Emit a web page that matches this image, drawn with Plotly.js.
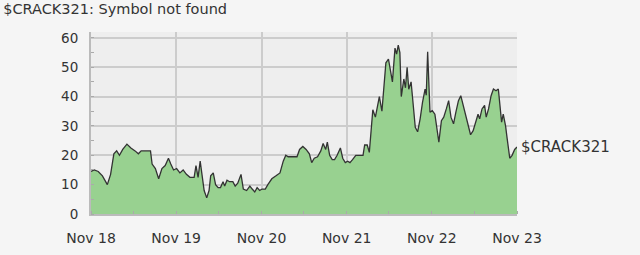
<!DOCTYPE html>
<html><head><meta charset="utf-8">
<script src="https://cdn.plot.ly/plotly-3.0.1.min.js"></script>
<style>html,body{margin:0;padding:0;background:#f5f5f5;}#chart{width:640px;height:255px;}</style>
</head><body><div id="chart"></div>
<script>
const seriesName = "$CRACK321";
const titleText = "$CRACK321: Symbol not found";
const dates = ["2018-11-01","2018-11-15","2018-12-02","2018-12-20","2019-01-10","2019-01-24","2019-02-07","2019-02-19","2019-03-03","2019-03-17","2019-04-04","2019-04-21","2019-05-09","2019-05-23","2019-06-04","2019-06-21","2019-07-14","2019-07-21","2019-08-04","2019-08-18","2019-09-01","2019-09-15","2019-09-29","2019-10-09","2019-10-21","2019-11-03","2019-11-17","2019-12-01","2019-12-15","2019-12-30","2020-01-17","2020-01-25","2020-02-03","2020-02-12","2020-02-22","2020-02-29","2020-03-11","2020-03-21","2020-03-28","2020-04-08","2020-04-18","2020-04-29","2020-05-09","2020-05-20","2020-05-27","2020-06-06","2020-06-17","2020-07-01","2020-07-11","2020-07-22","2020-08-05","2020-08-15","2020-08-29","2020-09-12","2020-09-22","2020-10-03","2020-10-13","2020-10-24","2020-11-03","2020-11-17","2020-11-28","2020-12-15","2021-01-02","2021-01-19","2021-02-02","2021-02-13","2021-02-23","2021-03-13","2021-04-02","2021-04-13","2021-04-27","2021-05-11","2021-05-25","2021-06-04","2021-06-15","2021-06-29","2021-07-13","2021-07-23","2021-08-03","2021-08-10","2021-08-20","2021-08-31","2021-09-10","2021-09-21","2021-10-05","2021-10-15","2021-10-26","2021-11-05","2021-11-15","2021-11-26","2021-12-10","2021-12-27","2022-01-10","2022-01-17","2022-01-28","2022-02-06","2022-02-14","2022-02-21","2022-03-04","2022-03-14","2022-03-21","2022-04-01","2022-04-18","2022-04-29","2022-05-06","2022-05-16","2022-05-27","2022-06-03","2022-06-10","2022-06-17","2022-06-23","2022-07-04","2022-07-11","2022-07-18","2022-07-25","2022-08-04","2022-08-11","2022-08-22","2022-09-01","2022-09-12","2022-09-22","2022-10-03","2022-10-08","2022-10-14","2022-10-24","2022-11-03","2022-11-14","2022-11-24","2022-12-01","2022-12-12","2022-12-22","2023-01-02","2023-01-12","2023-01-22","2023-02-02","2023-02-12","2023-02-23","2023-03-05","2023-03-16","2023-03-26","2023-04-06","2023-04-16","2023-04-27","2023-05-07","2023-05-18","2023-05-25","2023-06-04","2023-06-15","2023-06-22","2023-07-02","2023-07-13","2023-07-23","2023-08-03","2023-08-13","2023-08-20","2023-08-27","2023-09-03","2023-09-13","2023-09-20","2023-10-01","2023-10-11","2023-10-22","2023-11-01"];
const values = [14.5,15,14.5,13,10,13.5,20.5,21.5,20,22,23.8,22.5,21.5,20.5,21.5,21.5,21.5,17,15.5,12,15.5,16.5,19,17,15,15.5,14,15,13.5,12.5,12.5,16.5,12.5,18,12,8,5.5,8,13,14,10,9,9,11,9.5,11.5,11,11,9.5,10.5,13.5,8.5,8,9.5,8.5,7.5,9,8,8.5,8.5,10,12,13,14,18,20,19.5,19.5,19.5,22,23,22,20.5,17.5,19,19.5,21.5,24,22,24.5,20,18.5,18.5,20,22.5,19,17.5,18,17.5,18.5,20,20,20,23.5,23.5,21,30,35.5,33,38,40,35,51.5,52.8,50,45,56.5,54.5,57.5,55,40,46,43,50,42.5,45,39,29.5,28,32.5,38,42.5,40.5,55.3,34.7,35.2,34,29,24.5,31.8,33,35.8,38.6,33,30.7,34.7,38.6,40.3,37,33.5,30,27,28.4,31.3,34,32.4,35.8,37,33,35.8,40.3,42.6,42,42.6,38,31.3,34,30,25.6,19,20,22,22.8];
const xTickVals = ["2018-11-01","2019-11-01","2020-11-01","2021-11-01","2022-11-01","2023-11-01"];
const xTickText = ["Nov 18","Nov 19","Nov 20","Nov 21","Nov 22","Nov 23"];
const yTickVals = [0,10,20,30,40,50,60];

const font = "DejaVu Sans, Verdana, sans-serif";
const trace = {
  x: dates, y: values, type: "scatter", mode: "lines",
  fill: "tozeroy", fillcolor: "#98d190",
  line: {color: "#333333", width: 1.3},
  hoverinfo: "skip"
};
const layout = {
  width: 640, height: 255,
  margin: {l: 91, r: 123, t: 32, b: 41},
  paper_bgcolor: "#f5f5f5", plot_bgcolor: "#eeeeee",
  showlegend: false,
  font: {family: font, size: 13, color: "#333333"},
  xaxis: {
    type: "date", range: [xTickVals[0], xTickVals[xTickVals.length-1]],
    tickvals: xTickVals, ticktext: xTickText,
    showgrid: true, gridcolor: "#cccccc", gridwidth: 2,
    showline: true, linecolor: "#bbbbbb", linewidth: 2,
    ticks: "", ticklabelstandoff: 10,
    tickfont: {family: font, size: 14, color: "#333333"},
    minor: {dtick: "M6", tick0: "2018-11-01", ticks: "inside", ticklen: 3, tickcolor: "#aaaaaa", showgrid: false},
    zeroline: false, fixedrange: true
  },
  yaxis: {
    range: [0, 62], tickvals: yTickVals,
    showgrid: true, gridcolor: "#cccccc", gridwidth: 2,
    showline: true, linecolor: "#bbbbbb", linewidth: 2,
    ticks: "", ticklabelstandoff: 8,
    tickfont: {family: font, size: 13.5, color: "#333333"},
    minor: {dtick: 5, ticks: "inside", ticklen: 3, tickcolor: "#aaaaaa", showgrid: false},
    zeroline: false, fixedrange: true
  },
  title: {text: titleText, xref: "container", x: 0.005, xanchor: "left", yref: "container", y: 0.985, yanchor: "top",
          font: {family: font, size: 14.5, color: "#333333"}},
  annotations: [{
    xref: "paper", yref: "y", x: 1, y: values[values.length-1],
    xanchor: "left", yanchor: "middle", xshift: 2, showarrow: false,
    text: seriesName, font: {family: font, size: 15, color: "#333333"}
  }]
};
Plotly.newPlot("chart", [trace], layout, {displayModeBar: false, staticPlot: true});
</script></body></html>
